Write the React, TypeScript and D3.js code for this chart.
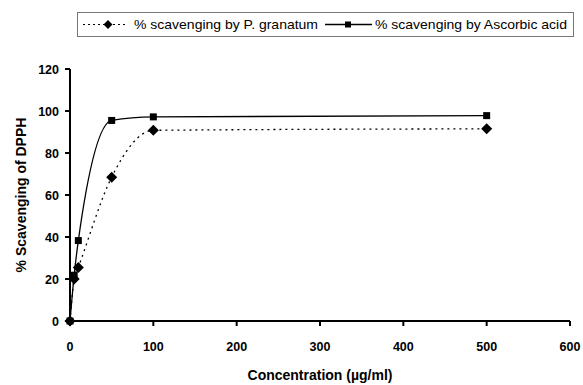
import React, { useEffect } from 'react';
import * as d3 from 'd3';

const concentrations = [0, 5, 10, 50, 100, 500];
const granatum = [0, 20, 25.5, 68.5, 90.8, 91.5];
const ascorbic = [0, 21.8, 38.3, 95.5, 97.2, 97.8];
const xTicks = [0, 100, 200, 300, 400, 500, 600];
const yTicks = [0, 20, 40, 60, 80, 100, 120];
const seriesNames = ['% scavenging by P. granatum', '% scavenging by Ascorbic acid'];

const W = 583;
const H = 385;
const FONT = '"Liberation Sans", Arial, sans-serif';

const x = d3.scaleLinear().domain([0, 600]).range([70, 570]);
const y = d3.scaleLinear().domain([0, 120]).range([321, 69]);

// excel-style smoothing without the overshoot
const line = d3
  .line<number>()
  .x((_, i) => x(concentrations[i]))
  .y((d) => y(d))
  .curve(d3.curveMonotoneX);

const Diamond = ({ cx, cy, r = 5.5 }: { cx: number; cy: number; r?: number }) => (
  <path d={`M${cx},${cy - r}L${cx + r},${cy}L${cx},${cy + r}L${cx - r},${cy}Z`} fill="#000" />
);

const Square = ({ cx, cy, s = 7 }: { cx: number; cy: number; s?: number }) => (
  <rect x={cx - s / 2} y={cy - s / 2} width={s} height={s} fill="#000" />
);

export default function App() {
  useEffect(() => {
    document.body.style.margin = '0';
  }, []);

  return (
    <svg width={W} height={H} style={{ display: 'block', background: '#fff' }} fontFamily={FONT}>
      {/* legend */}
      <rect x={77.5} y={12.5} width={496} height={24} fill="#fff" stroke="#777" strokeWidth={1} />
      <line x1={83} x2={128} y1={24.5} y2={24.5} stroke="#000" strokeWidth={1.2} strokeDasharray="2,3" />
      <Diamond cx={108} cy={24.5} r={4.5} />
      <text x={134} y={29} fontSize={13} textLength={184} lengthAdjust="spacingAndGlyphs">
        {seriesNames[0]}
      </text>
      <line x1={325} x2={372} y1={24.5} y2={24.5} stroke="#000" strokeWidth={1.3} />
      <Square cx={348} cy={24.5} s={6} />
      <text x={375} y={29} fontSize={13} textLength={192} lengthAdjust="spacingAndGlyphs">
        {seriesNames[1]}
      </text>

      {/* axes */}
      <line x1={x(0)} x2={x(600)} y1={y(0)} y2={y(0)} stroke="#000" strokeWidth={2} />
      <line x1={x(0)} x2={x(0)} y1={y(0)} y2={y(120)} stroke="#000" strokeWidth={2} />
      {xTicks.map((t) => (
        <g key={'x' + t}>
          <line x1={x(t)} x2={x(t)} y1={y(0)} y2={y(0) + 5} stroke="#000" strokeWidth={2} />
          <text x={x(t)} y={351} fontSize={12.5} fontWeight="bold" textAnchor="middle">
            {t}
          </text>
        </g>
      ))}
      {yTicks.map((t) => (
        <g key={'y' + t}>
          <line x1={x(0) - 5} x2={x(0)} y1={y(t)} y2={y(t)} stroke="#000" strokeWidth={2} />
          <text x={59} y={y(t) + 4.5} fontSize={12.5} fontWeight="bold" textAnchor="end">
            {t}
          </text>
        </g>
      ))}

      {/* titles */}
      <text x={320} y={380} fontSize={14} fontWeight="bold" textAnchor="middle">
        Concentration (µg/ml)
      </text>
      <text
        transform={`translate(26,${(y(0) + y(120)) / 2}) rotate(-90)`}
        fontSize={14}
        fontWeight="bold"
        textAnchor="middle"
      >
        % Scavenging of DPPH
      </text>

      {/* series */}
      <path d={line(granatum) || ''} fill="none" stroke="#000" strokeWidth={1.3} strokeDasharray="2,4" />
      <path d={line(ascorbic) || ''} fill="none" stroke="#000" strokeWidth={1.3} />
      {granatum.map((v, i) => (
        <Diamond key={'g' + i} cx={x(concentrations[i])} cy={y(v)} />
      ))}
      {ascorbic.map((v, i) => (
        <Square key={'a' + i} cx={x(concentrations[i])} cy={y(v)} />
      ))}
    </svg>
  );
}
